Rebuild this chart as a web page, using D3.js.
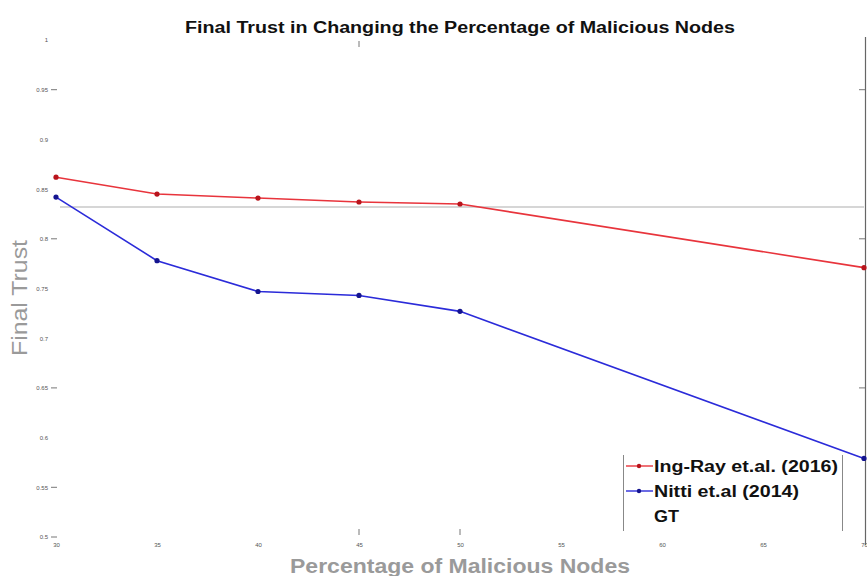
<!DOCTYPE html>
<html>
<head>
<meta charset="utf-8">
<script src="https://cdn.jsdelivr.net/npm/d3@7"></script>
<style>
  body { margin: 0; background: #fff; }
  svg { display: block; font-family: "Liberation Sans", Arial, sans-serif; }
</style>
</head>
<body>
<div class="chart"></div>
<script>
var svgWidth = 867;
var svgHeight = 576;

// data
var malicious = [30, 35, 40, 45, 50, 70];
var ingRay = [0.862, 0.845, 0.841, 0.837, 0.835, 0.771];
var nitti = [0.842, 0.778, 0.747, 0.743, 0.727, 0.579];
var gtValue = 0.832;
var gtRange = [30, 70];

var xTicks = [30, 35, 40, 45, 50, 55, 60, 65, 70];
var yTicks = [0.5, 0.55, 0.6, 0.65, 0.7, 0.75, 0.8, 0.85, 0.9, 0.95, 1];
var yDashTicks = [0.5, 0.55, 0.65, 0.8, 0.95];
var rightTicks = [0.65, 0.8, 0.95];

var seriesNames = ["Ing-Ray et.al. (2016)", "Nitti et.al (2014)", "GT"];
var seriesColors = ["#e8343c", "#2b2bd9", "#c9c9c9"];
var markerColors = ["#b8141c", "#14148f", "#c9c9c9"];

var svg = d3.select(".chart")
    .append("svg")
    .attr("width", svgWidth)
    .attr("height", svgHeight);

svg.append("rect")
    .attr("width", svgWidth)
    .attr("height", svgHeight)
    .attr("fill", "#fff");

var x = d3.scaleLinear().domain([30, 70]).range([56, 864]);
var y = d3.scaleLinear().domain([0.5, 1]).range([537, 40]);

// tick labels (tiny, as in the captured figure)
var xAxis = svg.append("g")
    .attr("transform", "translate(0,541)")
    .call(d3.axisBottom(x).tickValues(xTicks).tickSize(0).tickPadding(2).tickFormat(d3.format("d")));
xAxis.select(".domain").remove();
xAxis.selectAll("text").attr("font-size", 6).attr("fill", "#555");

var yAxis = svg.append("g")
    .attr("transform", "translate(50,0)")
    .call(d3.axisLeft(y).tickValues(yTicks).tickSize(0).tickPadding(2).tickFormat(d => d));
yAxis.select(".domain").remove();
yAxis.selectAll("text").attr("font-size", 6).attr("fill", "#555");

svg.selectAll(".ydash")
    .data(yDashTicks)
    .enter()
    .append("line")
    .attr("x1", 51).attr("x2", 57)
    .attr("y1", d => y(d)).attr("y2", d => y(d))
    .attr("stroke", "#777")
    .attr("stroke-width", 1);

// right-hand axis line
svg.append("line")
    .attr("x1", 865.5).attr("x2", 865.5)
    .attr("y1", y(1) - 3).attr("y2", y(0.5) + 8)
    .attr("stroke", "#666")
    .attr("stroke-width", 1.2);

svg.selectAll(".rtick")
    .data(rightTicks)
    .enter()
    .append("line")
    .attr("x1", 859).attr("x2", 865)
    .attr("y1", d => y(d)).attr("y2", d => y(d))
    .attr("stroke", "#777");

// small top / bottom ticks
svg.append("line")
    .attr("x1", x(45)).attr("x2", x(45))
    .attr("y1", y(1) + 1).attr("y2", y(1) + 7)
    .attr("stroke", "#777");
svg.selectAll(".btick")
    .data([45, 50])
    .enter()
    .append("line")
    .attr("x1", d => x(d)).attr("x2", d => x(d))
    .attr("y1", y(0.5) - 8).attr("y2", y(0.5) - 2)
    .attr("stroke", "#777");

// GT line
svg.append("line")
    .attr("x1", x(gtRange[0]) + 4).attr("x2", x(gtRange[1]))
    .attr("y1", y(gtValue)).attr("y2", y(gtValue))
    .attr("stroke", seriesColors[2])
    .attr("stroke-width", 1.5);

var line = d3.line()
    .x(d => x(d[0]))
    .y(d => y(d[1]));

[ingRay, nitti].forEach(function (vals, i) {
    var pts = malicious.map((m, j) => [m, vals[j]]);
    svg.append("path")
        .datum(pts)
        .attr("fill", "none")
        .attr("stroke", seriesColors[i])
        .attr("stroke-width", 1.6)
        .attr("d", line);
    svg.selectAll(".pt" + i)
        .data(pts)
        .enter()
        .append("circle")
        .attr("cx", d => x(d[0]))
        .attr("cy", d => y(d[1]))
        .attr("r", 2.6)
        .attr("fill", markerColors[i]);
});

// title and axis labels
svg.append("text")
    .attr("x", 460).attr("y", 33)
    .attr("text-anchor", "middle")
    .attr("font-size", 16)
    .attr("font-weight", "bold")
    .attr("fill", "#111")
    .attr("textLength", 550)
    .attr("lengthAdjust", "spacingAndGlyphs")
    .text("Final Trust in Changing the Percentage of Malicious Nodes");

svg.append("text")
    .attr("x", 460).attr("y", 573)
    .attr("text-anchor", "middle")
    .attr("font-size", 20)
    .attr("font-weight", "bold")
    .attr("fill", "#9a9a9a")
    .attr("textLength", 340)
    .attr("lengthAdjust", "spacingAndGlyphs")
    .text("Percentage of Malicious Nodes");

svg.append("text")
    .attr("transform", "translate(27,298) rotate(-90)")
    .attr("text-anchor", "middle")
    .attr("font-size", 22)
    .attr("fill", "#9a9a9a")
    .attr("textLength", 116)
    .attr("lengthAdjust", "spacingAndGlyphs")
    .text("Final Trust");

// legend
var legend = svg.append("g").attr("transform", "translate(623,455)");
legend.append("line")
    .attr("x1", 0.5).attr("x2", 0.5).attr("y1", 0).attr("y2", 76)
    .attr("stroke", "#888");
legend.append("line")
    .attr("x1", 219.5).attr("x2", 219.5).attr("y1", 0).attr("y2", 76)
    .attr("stroke", "#888");

var legendWidths = [184, 145, 25];
seriesNames.forEach(function (name, i) {
    var ly = 11 + i * 25;
    if (i < 2) {
        legend.append("line")
            .attr("x1", 3).attr("x2", 30)
            .attr("y1", ly).attr("y2", ly)
            .attr("stroke", seriesColors[i])
            .attr("stroke-width", 1.4);
        legend.append("circle")
            .attr("cx", 16).attr("cy", ly).attr("r", 2.2)
            .attr("fill", markerColors[i]);
    }
    legend.append("text")
        .attr("x", 31).attr("y", ly + 6)
        .attr("font-size", 16)
        .attr("font-weight", "bold")
        .attr("fill", "#111")
        .attr("textLength", legendWidths[i])
        .attr("lengthAdjust", "spacingAndGlyphs")
        .text(name);
});
</script>
</body>
</html>
